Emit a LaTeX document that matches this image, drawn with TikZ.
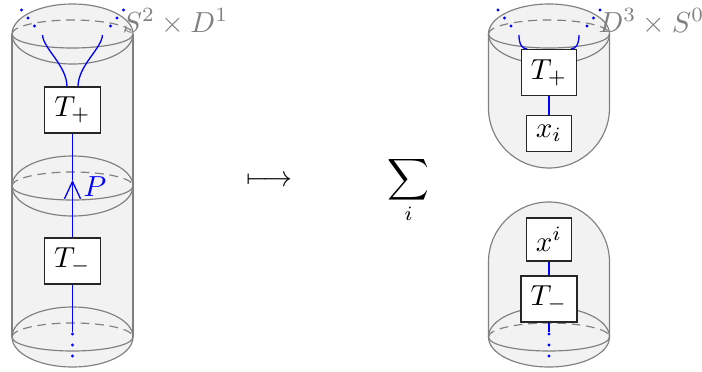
\documentclass[tikz,border=0pt]{standalone}
\usetikzlibrary{arrows.meta,calc}

% one sphere: outline plus equator (back half dashed)
\newcommand\drawglobe[2]{%
  \begin{scope}[shift={(#1,#2)}]
    \draw[shell] (0,0) ellipse[x radius=60.5,y radius=30];
    \draw[shell] (-60.5,0) arc[start angle=180,end angle=360,x radius=60.5,y radius=14];
    \draw[backline] (-60.5,0) arc[start angle=180,end angle=0,x radius=60.5,y radius=14];
  \end{scope}}

\begin{document}
\begin{tikzpicture}[x=0.345pt,y=0.345pt,
  shell/.style={draw=gray, line width=0.4pt},
  backline/.style={draw=gray, line width=0.4pt, dash pattern=on 3pt off 2pt},
  body/.style={fill=gray!10},
  strand/.style={draw=blue, line width=0.45pt},
  coupon/.style={draw=black!85, fill=white, line width=0.5pt},
  bead/.style={circle, fill=blue, inner sep=0pt, minimum size=1.2pt},
  tag/.style={text=gray, inner sep=0pt, anchor=base west}]

\useasboundingbox (0,0) rectangle (702,371);

% ---- shaded bodies
\path[body] (12,337) arc[start angle=180,end angle=0,x radius=60.5,y radius=30]
  -- (133,34) arc[start angle=0,end angle=-180,x radius=60.5,y radius=30] -- cycle;
\path[body] (488.5,337) arc[start angle=180,end angle=0,x radius=60.5,y radius=30]
  -- (609.5,263) arc[start angle=0,end angle=-180,x radius=60.5,y radius=60] -- cycle;
\path[body] (488.5,109) arc[start angle=180,end angle=0,x radius=60.5,y radius=60]
  -- (609.5,34) arc[start angle=0,end angle=-180,x radius=60.5,y radius=30] -- cycle;

% ---- outlines
\draw[shell] (12,337) -- (12,34) (133,337) -- (133,34);
\drawglobe{72.5}{337}
\drawglobe{72.5}{185}
\drawglobe{72.5}{34}

\draw[shell] (488.5,337) -- (488.5,263)
  arc[start angle=180,end angle=360,x radius=60.5,y radius=60] -- (609.5,337);
\drawglobe{549}{337}

\draw[shell] (488.5,34) -- (488.5,109)
  arc[start angle=180,end angle=0,x radius=60.5,y radius=60] -- (609.5,34);
\drawglobe{549}{34}

% ---- coupons
\node[coupon] (TpL) at (72.5,261) {$T_+$};
\node[coupon] (TmL) at (72.5,110) {$T_-$};
\node[coupon] (TpR) at (549,298.5) {$T_+$};
\node[coupon] (xlo) at (549,237.5) {$x_i$};
\node[coupon] (xup) at (549,131.5) {$x^i$};
\node[coupon] (TmR) at (549,72) {$T_-$};

% ---- beads (strands continuing off the boundary)
\foreach \n/\dx/\dy in {1/38/9, 2/44.5/17, 3/51/25} {
  \node[bead] (aL\n) at (72.5-\dx,336+\dy) {};
  \node[bead] (bL\n) at (72.5+\dx,336+\dy) {};
  \node[bead] (aR\n) at (549-\dx,336+\dy) {};
  \node[bead] (bR\n) at (549+\dx,336+\dy) {};
}
\foreach \n/\y in {1/37, 2/26, 3/15} {
  \node[bead] (cL\n) at (72.5,\y) {};
  \node[bead] (cR\n) at (549,\y) {};
}

% ---- strands, left
\coordinate (sLa) at (42.5,336);
\coordinate (sLb) at (102.5,336);
\draw[strand] (sLa) .. controls (43.5,322) and (66.5,306) .. ($(TpL.north)+(-5.5,0)$);
\draw[strand] (sLb) .. controls (101.5,322) and (78.5,306) .. ($(TpL.north)+(5.5,0)$);
\coordinate (pin) at (72.5,191);
\draw[strand,-{Straight Barb[length=5.9pt,width=5.5pt]}] (TmL.north) -- (pin);
\draw[strand] (pin) -- (TpL.south);
\node[text=blue, inner sep=0pt] (plabel) at (95,184) {$P$};
\draw[strand] (TmL.south) -- (cL1);

% ---- strands, right
\coordinate (sRa) at (519,336);
\coordinate (sRb) at (579,336);
\draw[strand] (sRa) .. controls (519,327) and (522,322) .. ($(TpR.north)+(-22,0)$);
\draw[strand] (sRb) .. controls (579,327) and (576,322) .. ($(TpR.north)+(22,0)$);
\draw[strand] (TpR.south) -- (xlo.north);
\draw[strand] (xup.south) -- (TmR.north);
\draw[strand] (TmR.south) -- (cR1);

% ---- labels
\node[tag] (lblL) at (122,339) {$S^2\times D^1$};
\node[tag] (lblR) at (598,339) {$D^3\times S^0$};
\node[inner sep=0pt, anchor=base] (mapsto) at (269.5,184.3) {$\longmapsto$};
\node[inner sep=0pt, anchor=base] (sumi) at (408.5,184.3) {$\displaystyle\sum_i$};

\end{tikzpicture}
\end{document}
